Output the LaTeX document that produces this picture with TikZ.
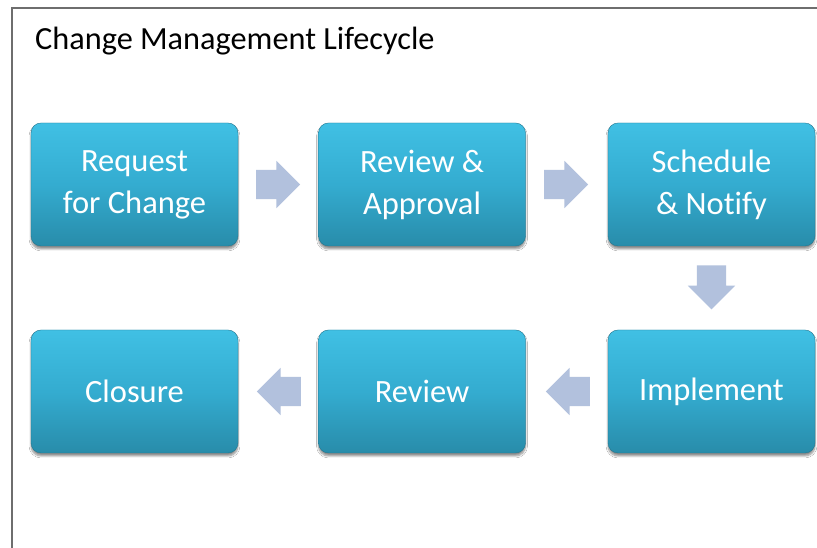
\documentclass[tikz,border=0pt]{standalone}
\usepackage{fontspec}
\setmainfont{Carlito}[Ligatures=CommonOff]
\usetikzlibrary{shapes.arrows,shadows.blur,calc}
\definecolor{boxtop}{RGB}{64,192,228}
\definecolor{boxmid}{RGB}{52,172,208}
\definecolor{boxbot}{RGB}{40,140,170}
\definecolor{arrowfill}{RGB}{178,193,221}
\definecolor{framegray}{RGB}{110,110,110}
\tikzset{
  stepbox/.style={rectangle, rounded corners=10pt, minimum width=207pt, minimum height=123pt,
    inner sep=0pt, top color=boxtop, bottom color=boxbot, middle color=boxmid,
    draw=boxbot!85!black, line width=0.4pt,
    blur shadow={shadow xshift=0pt, shadow yshift=-3pt, shadow blur steps=6, shadow opacity=45},
    text=white, align=center, font=\fontsize{32.5}{42}\selectfont},
  blockarrow/.style={single arrow, fill=arrowfill, draw=none, inner xsep=0pt, inner ysep=14.5pt,
    minimum height=44pt, single arrow head extend=9pt,
    single arrow tip angle=90},
}
\begin{document}
\begin{tikzpicture}[x=1pt,y=1pt]
\useasboundingbox (0,0) rectangle (817,548);
\fill[white] (0,0) rectangle (817,548);
\draw[framegray, line width=1.5pt] (12,0) -- (12,540) -- (818,540);
\node[anchor=base west, font=\fontsize{32.3}{38}\selectfont, inner sep=0pt] (title) at (35,498) {Change Management Lifecycle};

\node[stepbox] (rfc) at (134.5,363.5) {Request\\for Change};
\node[stepbox] (rev) at (422,363.5) {Review \&\\Approval};
\node[stepbox] (sch) at (711.5,363.5) {Schedule\\\& Notify};
\node[stepbox] (imp) at (711.5,156.5) {Implement};
\node[stepbox] (rvw) at (422,156.5) {Review};
\node[stepbox] (clo) at (134.5,156.5) {Closure};

\node[blockarrow] (a1) at ($(rfc.east)!0.5!(rev.west)+(-7.5,0)$) {};
\node[blockarrow] (a2) at ($(rev.east)!0.5!(sch.west)+(-8,0)$) {};
\node[blockarrow, rotate=-90] (a3) at ($(sch.south)!0.5!(imp.north)+(0,8)$) {};
\node[blockarrow, rotate=180] (a4) at ($(imp.west)!0.5!(rvw.east)+(8.5,0)$) {};
\node[blockarrow, rotate=180] (a5) at ($(rvw.west)!0.5!(clo.east)+(8,0)$) {};
\end{tikzpicture}
\end{document}
